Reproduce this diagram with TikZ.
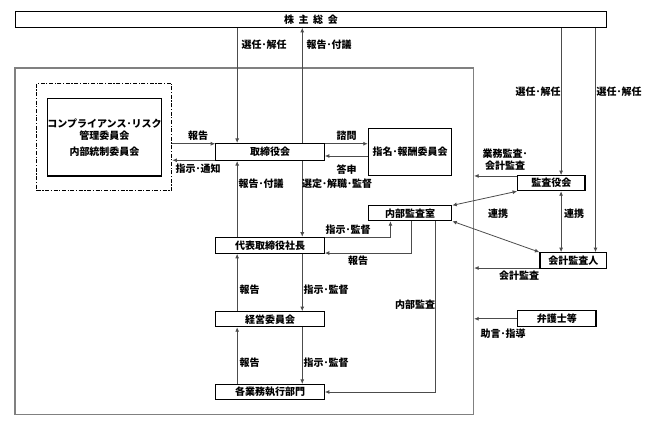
\documentclass[tikz,border=0pt]{standalone}
\usepackage{fontspec}
\setmainfont{Noto Sans CJK JP}
\usetikzlibrary{arrows.meta}
\definecolor{linegray}{gray}{0.3}
\tikzset{
  box/.style={draw=black,line width=1.1pt,inner sep=0pt,font=\bfseries},
  lbl/.style={inner sep=0pt,font=\bfseries},
  arr/.style={draw=linegray,line width=0.8pt,-{Latex[length=4.5pt,width=4pt]}},
  darr/.style={draw=linegray,line width=0.8pt,{Latex[length=4.5pt,width=4pt]}-{Latex[length=4.5pt,width=4pt]}}
}

\begin{document}
\begin{tikzpicture}[x=1pt,y=-1pt,font=\fontsize{8.5}{11.5}\selectfont]
\useasboundingbox (0,0) rectangle (649,425);

% outer frame
\node[draw=gray,line width=1.6pt,minimum width=458.3pt,minimum height=346.3pt,inner sep=0pt] (frame) at (244.2,241.2) {};

% boxes
\node[box,minimum width=591.7pt,minimum height=15.6pt] (kabunushi) at (310.9,19.5) {株\ \ 主\ \ 総\ \ 会};
\node[box,minimum width=108.6pt,minimum height=17pt] (torikai) at (270,152) {取締役会};
\node[box,minimum width=108.6pt,minimum height=16pt] (daihyo) at (270,245.3) {代表取締役社長};
\node[box,minimum width=108.6pt,minimum height=15pt] (keiei) at (270,319.2) {経営委員会};
\node[box,minimum width=108.6pt,minimum height=15pt] (bumon) at (270,392) {各業務執行部門};
\node[box,minimum width=83.4pt,minimum height=47.4pt] (shimei) at (410,152) {指名･報酬委員会};
\node[box,minimum width=83.4pt,minimum height=14.7pt] (naibu) at (410,213.3) {内部監査室};
\node[box,minimum width=67.3pt,minimum height=15pt] (kansayaku) at (551.3,183.2) {監査役会};
\node[box,minimum width=66.7pt,minimum height=15.6pt] (kaikei) at (573.3,260.5) {会計監査人};
\node[box,minimum width=78.3pt,minimum height=15.7pt] (bengoshi) at (556.8,318.8) {弁護士等};
\node[draw=black,line width=1.4pt,dash pattern=on 4pt off 1.6pt on 1.2pt off 1.6pt,
  minimum width=135pt,minimum height=107.4pt,inner sep=0pt] (comp) at (104.2,137) {};
\node[box,minimum width=111pt,minimum height=77.7pt,align=center] (compin) at (104.5,137.2)
  {コンプライアンス･リスク\\管理委員会\\[4pt]内部統制委員会};

% line positions
\coordinate (lx) at ([xshift=22pt]torikai.north west);
\coordinate (rx) at ([xshift=-22.6pt]torikai.north east);
\coordinate (kx) at ([xshift=44pt]kansayaku.north west);
\coordinate (ax) at ([xshift=-11.7pt]kaikei.north east);

% shareholders
\draw[arr] (kabunushi.south -| lx) -- (torikai.north -| lx);
\draw[arr] (torikai.north -| rx) -- (kabunushi.south -| rx);
\draw[arr] (kabunushi.south -| kx) -- (kansayaku.north -| kx);
\draw[arr] (kabunushi.south -| ax) -- (kaikei.north -| ax);

% board
\draw[arr] ([yshift=-0.8pt]comp.east |- torikai.north) -- ([yshift=-0.8pt]torikai.north west);
\draw[arr] ([yshift=0.8pt]torikai.south west) -- ([yshift=0.8pt]comp.east |- torikai.south);
\draw[arr] ([yshift=-0.8pt]torikai.north east) -- ([yshift=-0.8pt]shimei.west |- torikai.north);
\draw[arr] (shimei.west |- 0,156) -- (torikai.east |- 0,156);
\draw[arr] (daihyo.north -| lx) -- (torikai.south -| lx);
\draw[arr] (torikai.south -| rx) -- (daihyo.north -| rx);

% execution
\draw[arr] (keiei.north -| lx) -- (daihyo.south -| lx);
\draw[arr] (daihyo.south -| rx) -- (keiei.north -| rx);
\draw[arr] (bumon.north -| lx) -- (keiei.south -| lx);
\draw[arr] (keiei.south -| rx) -- (bumon.north -| rx);

% internal audit
\draw[arr] ([yshift=-0.8pt]daihyo.north east) -| ([xshift=22.7pt]naibu.south west);
\draw[arr] ([xshift=44pt]naibu.south west) |- ([yshift=0.8pt]daihyo.south east);
\draw[arr] ([xshift=67.4pt]naibu.south west) |- (bumon.east);

% auditors
\draw[arr] ([yshift=-0.8pt]kansayaku.north west) -- ([yshift=-0.8pt]frame.east |- kansayaku.north);
\draw[darr] (kansayaku.south west) -- (naibu.north east);
\draw[darr] (naibu.south east) -- (kaikei.north west);
\draw[darr] (kansayaku.south -| kx) -- (kaikei.north -| kx);
\draw[arr] ([yshift=0.8pt]kaikei.south west) -- ([yshift=0.8pt]frame.east |- kaikei.south);
\draw[arr] (bengoshi.west) -- (frame.east |- bengoshi.west);

% labels
\node[lbl] (l1) at (264,45) {選任･解任};
\node[lbl] (l2) at (329,45) {報告･付議};
\node[lbl] (l3) at (538,91.7) {選任･解任};
\node[lbl] (l4) at (619,91.7) {選任･解任};
\node[lbl] (l5) at (198,136) {報告};
\node[lbl] (l6) at (198,169) {指示･通知};
\node[lbl] (l7) at (346.7,136) {諮問};
\node[lbl] (l8) at (346.7,169.3) {答申};
\node[lbl] (l9) at (261,184) {報告･付議};
\node[lbl] (l10) at (337,184) {選定･解職･監督};
\node[lbl] (l11) at (348,229.3) {指示･監督};
\node[lbl] (l12) at (358,261) {報告};
\node[lbl] (l13) at (415,305) {内部監査};
\node[lbl] (l14) at (249.5,289.3) {報告};
\node[lbl] (l15) at (326,289.3) {指示･監督};
\node[lbl] (l16) at (249.5,362.7) {報告};
\node[lbl] (l17) at (326,362.7) {指示･監督};
\node[lbl,align=center] (l18) at (505,160) {業務監査･\\会計監査};
\node[lbl] (l19) at (498,214) {連携};
\node[lbl] (l20) at (574,214) {連携};
\node[lbl] (l21) at (519,275.7) {会計監査};
\node[lbl] (l22) at (503,334) {助言･指導};
\end{tikzpicture}
\end{document}
